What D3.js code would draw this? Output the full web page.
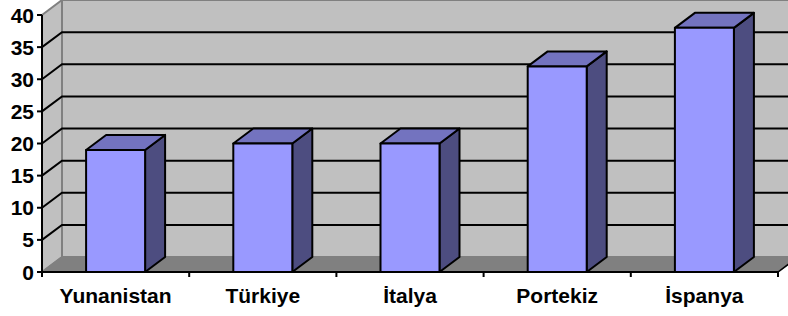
<!DOCTYPE html>
<html>
<head>
<meta charset="utf-8">
<script src="https://cdn.jsdelivr.net/npm/d3@7/dist/d3.min.js"></script>
<style>
  html, body { margin: 0; padding: 0; background: #fff; }
  svg { display: block; }
  text { font-family: "Liberation Sans", Arial, sans-serif; font-weight: bold; font-size: 21px; fill: #000; }
</style>
</head>
<body>
<script>
const categories = ["Yunanistan", "Türkiye", "İtalya", "Portekiz", "İspanya"];
const values = [19, 20, 20, 32, 38];
const yTicks = [0, 5, 10, 15, 20, 25, 30, 35, 40];

const W = 788, H = 316;
const DX = 20, DY = -15;
const plotLeft = 42, plotRight = 778, plotBottom = 272, plotTop = 15;

const svg = d3.select("body").append("svg").attr("width", W).attr("height", H);

const x = d3.scaleBand().domain(categories).range([plotLeft, plotRight]).paddingInner(0).paddingOuter(0);
const y = d3.scaleLinear().domain([0, 40]).range([plotBottom, plotTop]);
const barW = 59;

const line = d3.line();

// Back wall
svg.append("path")
  .attr("d", line([[plotLeft + DX, y(40) + DY], [plotRight + DX + 40, y(40) + DY], [plotRight + DX + 40, y(0) + DY], [plotLeft + DX, y(0) + DY]]) + "Z")
  .attr("fill", "#C0C0C0").attr("stroke", "#808080").attr("stroke-width", 2);
// Side wall
svg.append("path")
  .attr("d", line([[plotLeft, y(40)], [plotLeft + DX, y(40) + DY], [plotLeft + DX, y(0) + DY], [plotLeft, y(0)]]) + "Z")
  .attr("fill", "#C0C0C0").attr("stroke", "#808080").attr("stroke-width", 2);

// Gridlines
yTicks.filter(v => v > 0 && v < 40).forEach(v => {
  svg.append("path")
    .attr("d", line([[plotLeft, y(v)], [plotLeft + DX, y(v) + DY], [W + 10, y(v) + DY]]))
    .attr("fill", "none").attr("stroke", "#000").attr("stroke-width", 2);
});

// Floor
svg.append("path")
  .attr("d", line([[plotLeft, y(0)], [plotRight, y(0)], [plotRight + DX, y(0) + DY], [plotLeft + DX, y(0) + DY]]) + "Z")
  .attr("fill", "#808080").attr("stroke", "#808080").attr("stroke-width", 1.5);
svg.append("path")
  .attr("d", line([[plotRight, y(0)], [plotRight + DX, y(0) + DY]]))
  .attr("stroke", "#000").attr("stroke-width", 1.5).attr("fill", "none");

// Bars
categories.forEach((c, i) => {
  const cx = x(c) + x.bandwidth() / 2;
  const x0 = cx - barW / 2, x1 = cx + barW / 2;
  const yt = y(values[i]), yb = y(0);
  const g = svg.append("g").attr("stroke", "#000").attr("stroke-width", 2).attr("stroke-linejoin", "round");
  g.append("path")
    .attr("d", line([[x1, yt], [x1 + DX, yt + DY], [x1 + DX, yb + DY], [x1, yb]]) + "Z")
    .attr("fill", "#4D4D80");
  g.append("path")
    .attr("d", line([[x0, yt], [x0 + DX, yt + DY], [x1 + DX, yt + DY], [x1, yt]]) + "Z")
    .attr("fill", "#7373BF");
  g.append("rect")
    .attr("x", x0).attr("y", yt).attr("width", barW).attr("height", yb - yt)
    .attr("fill", "#9999FF");
});

// Y axis
svg.append("line").attr("x1", plotLeft).attr("x2", plotLeft).attr("y1", y(40)).attr("y2", y(0) + 4)
  .attr("stroke", "#000").attr("stroke-width", 2);
yTicks.forEach(v => {
  svg.append("line").attr("x1", plotLeft - 5).attr("x2", plotLeft).attr("y1", y(v)).attr("y2", y(v))
    .attr("stroke", "#000").attr("stroke-width", 2);
  svg.append("text").attr("x", 34).attr("y", y(v)).attr("dy", "0.36em")
    .attr("text-anchor", "end").text(v);
});

// X axis
svg.append("line").attr("x1", plotLeft).attr("x2", plotRight).attr("y1", y(0)).attr("y2", y(0))
  .attr("stroke", "#000").attr("stroke-width", 2);
const bounds = categories.map(c => x(c)).concat([plotRight]);
bounds.forEach(b => {
  svg.append("line").attr("x1", b).attr("x2", b).attr("y1", y(0)).attr("y2", y(0) + 5)
    .attr("stroke", "#000").attr("stroke-width", 2);
});
categories.forEach(c => {
  svg.append("text").attr("x", x(c) + x.bandwidth() / 2).attr("y", 303)
    .attr("text-anchor", "middle").text(c);
});
</script>
</body>
</html>
